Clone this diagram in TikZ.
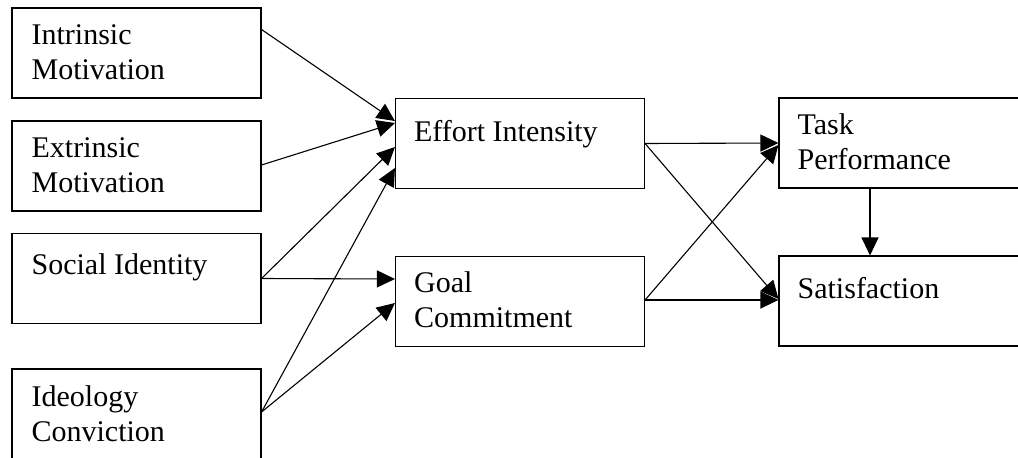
\documentclass[tikz,border=0pt]{standalone}
\usepackage{fontspec}
\setmainfont{Liberation Serif}
\usetikzlibrary{arrows.meta}

\begin{document}
\begin{tikzpicture}[
  box/.style={draw,line width=1.1pt,minimum width=249pt,minimum height=90pt,inner sep=0pt},
  lbl/.style={anchor=base west,inner sep=0pt,align=left,font=\fontsize{30pt}{35pt}\selectfont},
  arr/.style={-{Triangle[length=18pt,width=17pt]},line width=1.1pt}
]
\useasboundingbox (0pt,0pt) rectangle (1018pt,-458pt);

\node[box] (intr) at (136.5pt,-53pt) {};
\node[box] (extr) at (136.5pt,-166pt) {};
\node[box] (soc) at (136.5pt,-278.5pt) {};
\node[box] (ideo) at (136.5pt,-414pt) {};
\node[box] (eff) at (520pt,-143.5pt) {};
\node[box] (goal) at (520pt,-301.5pt) {};
\node[box] (task) at (903.5pt,-143pt) {};
\node[box] (sat) at (903.5pt,-301pt) {};

\node[lbl] (intrl) at ([shift={(20pt,-72pt)}]intr.north west) {Intrinsic\\Motivation};
\node[lbl] (extrl) at ([shift={(20pt,-72pt)}]extr.north west) {Extrinsic\\Motivation};
\node[lbl] (socl) at ([shift={(20pt,-42pt)}]soc.north west) {Social Identity};
\node[lbl] (ideol) at ([shift={(20pt,-73pt)}]ideo.north west) {Ideology\\Conviction};
\node[lbl] (effl) at ([shift={(19pt,-44pt)}]eff.north west) {Effort Intensity};
\node[lbl] (goall) at ([shift={(19pt,-72pt)}]goal.north west) {Goal\\Commitment};
\node[lbl] (taskl) at ([shift={(19pt,-72pt)}]task.north west) {Task\\Performance};
\node[lbl] (satl) at ([shift={(19pt,-43pt)}]sat.north west) {Satisfaction};

\draw[arr] ([yshift=23.5pt]intr.east) to ([yshift=22.5pt]eff.west);
\draw[arr] ([yshift=1pt]extr.east) to ([yshift=20.5pt]eff.west);
\draw[arr] (soc.east) to ([yshift=-3.5pt]eff.west);
\draw[arr] (soc.east) to ([yshift=22.5pt]goal.west);
\draw[arr] ([yshift=2pt]ideo.east) to ([yshift=-24.5pt]eff.west);
\draw[arr] ([yshift=2pt]ideo.east) to ([yshift=-1.5pt]goal.west);

\draw[arr] (eff.east) to (task.west);
\draw[arr] (eff.east) to ([yshift=2pt]sat.west);
\draw[arr] ([yshift=1.5pt]goal.east) to ([yshift=-2pt]task.west);
\draw[arr] ([yshift=1.5pt]goal.east) to ([yshift=1pt]sat.west);
\draw[arr] ([xshift=-33.5pt]task.south) to ([xshift=-33.5pt]sat.north);
\end{tikzpicture}
\end{document}
